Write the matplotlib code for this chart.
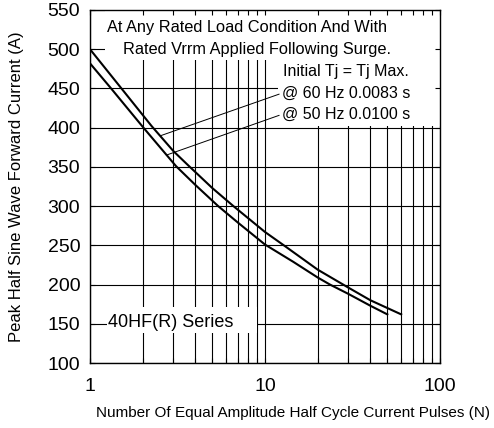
import numpy as np
import matplotlib
matplotlib.use("Agg")
import matplotlib.pyplot as plt
from matplotlib.patches import Rectangle
from matplotlib.ticker import FixedLocator, NullFormatter, FixedFormatter

plt.rcParams['font.family'] = ['Liberation Sans', 'DejaVu Sans']

# surge current curves
n_60hz = [1, 1.5, 2.25, 3, 3.6, 5, 6.6, 10, 13, 20, 30, 40, 60]
i_60hz = [500, 451, 402, 370, 353, 323, 300, 267, 249, 219, 196, 180, 162]
n_50hz = [1, 1.32, 2.02, 3.1, 4, 5.4, 7, 10, 14.5, 20, 23.5, 30, 40, 50]
i_50hz = [482, 450, 400, 351, 327, 300, 279, 251, 229, 209, 200, 188, 173, 162]

x_major = [1, 10, 100]
x_minor = [2, 3, 4, 5, 6, 7, 8, 9, 20, 30, 40, 50, 60, 70, 80, 90]
y_ticks = [100, 150, 200, 250, 300, 350, 400, 450, 500, 550]

note_lines = ["At Any Rated Load Condition And With",
              "Rated Vrrm Applied Following Surge.",
              "Initial Tj = Tj Max."]
label_60 = "@ 60 Hz 0.0083 s"
label_50 = "@ 50 Hz 0.0100 s"
series_name = "40HF(R) Series"

fig = plt.figure(figsize=(4.94, 4.28), dpi=100)
ax = fig.add_axes([90 / 494, 1 - 363 / 428, 350 / 494, 353 / 428])

ax.set_xscale('log')
ax.set_xlim(1, 100)
ax.set_ylim(100, 550)

# grid drawn by hand so the white note boxes can hide it but not the ticks
for xv in x_major + x_minor:
    ax.axvline(xv, color='black', lw=0.8, zorder=1)
for yv in y_ticks:
    ax.axhline(yv, color='black', lw=0.8, zorder=1)

# white areas behind the notes
for (x0, y0, w, h) in [(0.043, 0.858, 0.957, 0.142),
                       (0.537, 0.671, 0.463, 0.188),
                       (0.049, 0.085, 0.428, 0.074)]:
    ax.add_patch(Rectangle((x0, y0), w, h, transform=ax.transAxes,
                           facecolor='white', edgecolor='none', zorder=2))

ax.plot(n_60hz, i_60hz, color='black', lw=1.5, zorder=3,
        solid_joinstyle='round')
ax.plot(n_50hz, i_50hz, color='black', lw=1.5, zorder=3,
        solid_joinstyle='round')

ax.text(1.25, 528, note_lines[0], fontsize=11.8, ha='left', va='center', zorder=4)
ax.text(1.544, 500, note_lines[1], fontsize=11.8, ha='left', va='center', zorder=4)
ax.text(12.66, 472, note_lines[2], fontsize=11.5, ha='left', va='center', zorder=4)

ax.annotate(label_60, xy=(2.55, 390), xytext=(12.5, 444), fontsize=11.5,
            ha='left', va='center', zorder=4,
            arrowprops=dict(arrowstyle='-', color='black', lw=0.7,
                            shrinkA=0, shrinkB=0, relpos=(0, 0.5)))
ax.annotate(label_50, xy=(2.73, 365), xytext=(12.5, 417), fontsize=11.5,
            ha='left', va='center', zorder=4,
            arrowprops=dict(arrowstyle='-', color='black', lw=0.7,
                            shrinkA=0, shrinkB=0, relpos=(0, 0.5)))

ax.text(1.26, 151, series_name, fontsize=13, ha='left', va='center', zorder=4)

ax.set_axisbelow(False)
ax.xaxis.set_major_locator(FixedLocator(x_major))
ax.xaxis.set_major_formatter(FixedFormatter([str(v) for v in x_major]))
ax.xaxis.set_minor_locator(FixedLocator(x_minor))
ax.xaxis.set_minor_formatter(NullFormatter())
ax.set_yticks(y_ticks)

ax.tick_params(which='both', direction='in', top=True, right=True,
               length=3.5, width=0.8, labelsize=14)
ax.tick_params(axis='x', pad=10.5)
ax.tick_params(axis='y', pad=7)

for sp in ax.spines.values():
    sp.set_linewidth(1.0)

ax.set_xlabel("Number Of Equal Amplitude Half Cycle Current Pulses (N)",
              fontsize=11, labelpad=8)
ax.xaxis.label.set_x(0.58)
ax.set_ylabel("Peak Half Sine Wave Forward Current (A)", fontsize=12,
              labelpad=17)

fig.savefig("out.png", dpi=100)
